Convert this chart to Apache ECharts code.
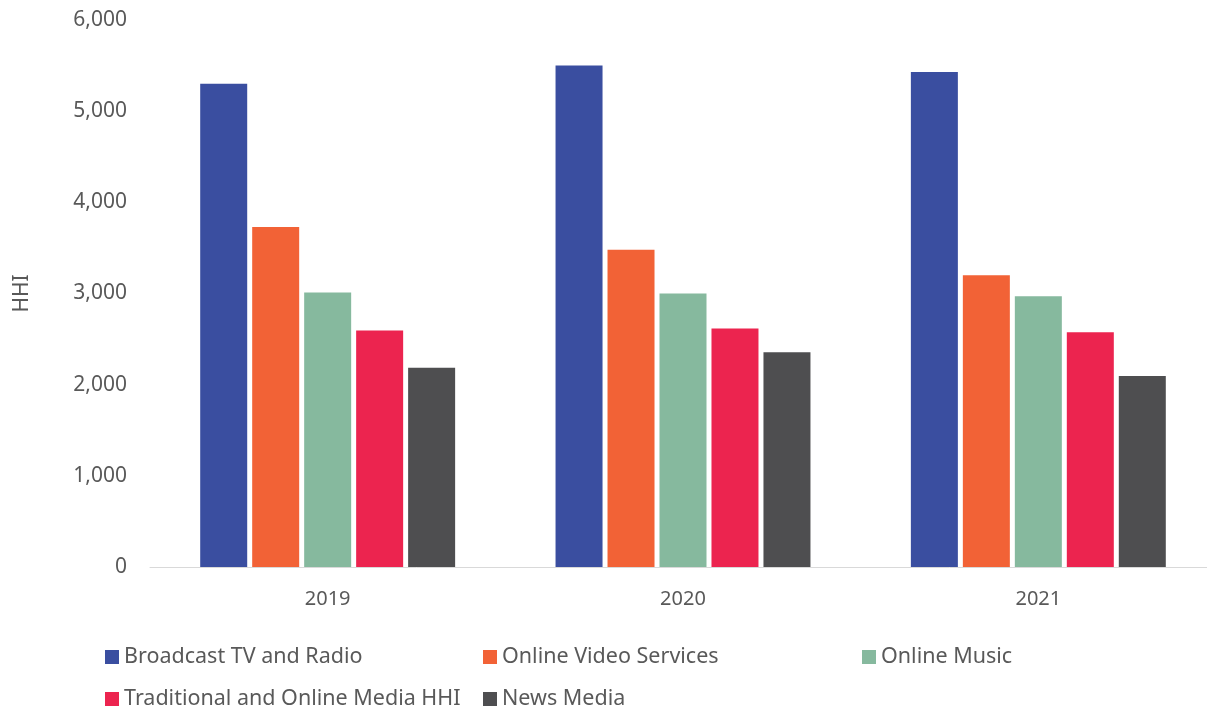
<!DOCTYPE html>
<html>
<head>
<meta charset="utf-8">
<script src="https://cdn.jsdelivr.net/npm/echarts@6/dist/echarts.min.js"></script>
<style>
  html, body { margin: 0; padding: 0; background: #ffffff; overflow: hidden; }
  #chart { width: 1217px; height: 708px; }
</style>
</head>
<body>
<div id="chart"></div>
<script>
// Market concentration (HHI) by media segment, 2019–2021
const years = ['2019', '2020', '2021'];
const seriesNames = [
  'Broadcast TV and Radio',
  'Online Video Services',
  'Online Music',
  'Traditional and Online Media HHI',
  'News Media'
];
const broadcastTvRadio = [5300, 5500, 5430];
const onlineVideo = [3730, 3480, 3200];
const onlineMusic = [3010, 3000, 2970];
const traditionalOnline = [2595, 2615, 2575];
const newsMedia = [2185, 2355, 2095];
const yTicks = [0, 1000, 2000, 3000, 4000, 5000, 6000];

const seriesValues = [broadcastTvRadio, onlineVideo, onlineMusic, traditionalOnline, newsMedia];
const colors = ['#3A4EA0', '#F26236', '#86B99E', '#EC244F', '#4E4E50'];

const FONT = 'Noto Sans';
const TEXT = '#595959';

// legend laid out as a two-row grid of fixed columns
const legendSlots = [
  { left: 100, top: 641 },
  { left: 478, top: 641 },
  { left: 857, top: 641 },
  { left: 100, top: 683 },
  { left: 478, top: 683 }
];

const chart = echarts.init(document.getElementById('chart'), null, { renderer: 'canvas' });

chart.setOption({
  backgroundColor: '#ffffff',
  animation: false,
  color: colors,
  grid: { left: 150, top: 20, right: 1, height: 547, containLabel: false },
  legend: seriesNames.map((name, i) => ({
    data: [name],
    left: legendSlots[i].left,
    top: legendSlots[i].top,
    icon: 'rect',
    itemWidth: 14,
    itemHeight: 14,
    selectedMode: false,
    textStyle: { fontFamily: FONT, fontSize: 21.5, color: TEXT }
  })),
  xAxis: {
    type: 'category',
    data: years,
    axisLine: { show: true, lineStyle: { color: '#D9D9D9', width: 1 } },
    axisTick: { show: false },
    axisLabel: { fontFamily: FONT, fontSize: 20, color: TEXT, margin: 22 }
  },
  yAxis: {
    type: 'value',
    min: yTicks[0],
    max: yTicks[yTicks.length - 1],
    interval: yTicks[1] - yTicks[0],
    name: 'HHI',
    nameLocation: 'middle',
    nameGap: 117,
    nameRotate: 90,
    nameTextStyle: { fontFamily: FONT, fontSize: 21, color: TEXT },
    splitLine: { show: false },
    axisLine: { show: false },
    axisTick: { show: false },
    axisLabel: {
      fontFamily: FONT, fontSize: 21, color: TEXT, margin: 23,
      formatter: v => v.toLocaleString('en-US')
    }
  },
  series: seriesNames.map((name, i) => ({
    name,
    type: 'bar',
    data: seriesValues[i],
    barWidth: 47,
    barGap: '10.6%',
    itemStyle: { color: colors[i] }
  }))
});
</script>
</body>
</html>
